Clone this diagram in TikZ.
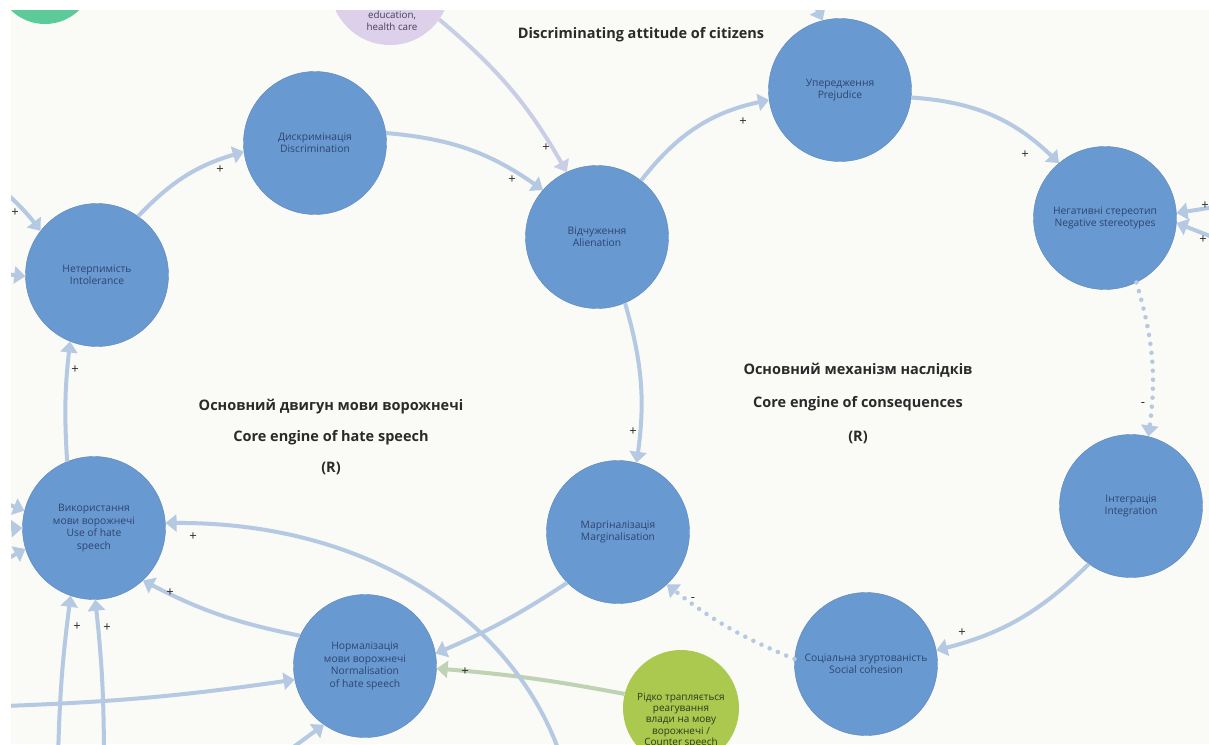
\documentclass[tikz,border=0pt]{standalone}
\usepackage{fontspec}
\setmainfont{Open Sans}
\usetikzlibrary{arrows.meta}
\definecolor{bgcol}{HTML}{FAFAF7}
\definecolor{nodeblue}{HTML}{6899D0}
\definecolor{nodetext}{HTML}{2F4570}
\definecolor{edgeblue}{HTML}{B5C9E2}
\definecolor{greenedge}{HTML}{BDD3B4}
\definecolor{titlecol}{HTML}{2A2A2A}
\definecolor{purplenode}{HTML}{DCD0EA}
\definecolor{purpletext}{HTML}{45405A}
\definecolor{tealnode}{HTML}{5CCB99}
\definecolor{limenode}{HTML}{AAC94E}
\definecolor{limetext}{HTML}{2E3A22}
\begin{document}
\begin{tikzpicture}[x=1pt,y=-1pt,
  var/.style={circle, fill=nodeblue, draw=nodeblue!88!black, line width=0.4pt,
    minimum size=143pt, inner sep=0pt, align=center, text=nodetext,
    font=\fontsize{10.3}{12.4}\selectfont},
  link/.style={draw=edgeblue, line width=4pt, -{Triangle[length=11pt,width=17pt]}},
  dotlink/.style={draw=edgeblue, line width=4.5pt, line cap=round,
    dash pattern=on 0pt off 9pt, -{Triangle[length=11pt,width=17pt]}},
  sign/.style={font=\fontsize{13}{13}\selectfont, text=titlecol, inner sep=0pt},
  title/.style={font=\bfseries\fontsize{14.5}{16}\selectfont, text=titlecol, inner sep=0pt}]
\useasboundingbox (0,0) rectangle (1209,744);
\fill[white] (0,0) rectangle (1209,744);
\fill[bgcol] (11,10) rectangle (1209,744);
\begin{scope}
\clip (11,10) rectangle (1209,744);
% partial nodes at the borders
\node[circle, fill=tealnode, minimum size=98pt, inner sep=0pt] (teal) at (45,-25) {};
\node[circle, fill=purplenode, minimum size=120pt, inner sep=0pt] (purp) at (390,-15) {};
\node[align=center, text=purpletext, font=\fontsize{9.8}{12.5}\selectfont, inner sep=0pt] (purptext) at (392,21) {education,\\health care};
\node[circle, fill=limenode, minimum size=116pt, inner sep=0pt] (lime) at (681,708) {};
\node[align=center, text=limetext, font=\fontsize{10}{11.2}\selectfont, inner sep=0pt, anchor=north] (limetext) at (681,693) {Рідко трапляється\\реагування\\влади на мову\\ворожнечі /\\Counter speech};

% main variables
\node[var] (intol) at (97,275) {Нетерпимість\\Intolerance};
\node[var] (disc)  at (315,143) {Дискримінація\\Discrimination};
\node[var] (alien) at (597,237) {Відчуження\\Alienation};
\node[var] (prej)  at (840,90) {Упередження\\Prejudice};
\node[var] (neg)   at (1105,218) {Негативні стереотип\\Negative stereotypes};
\node[var] (integ) at (1131,506) {Інтеграція\\Integration};
\node[var] (soc)   at (866,664) {Соціальна згуртованість\\Social cohesion};
\node[var] (marg)  at (618,532) {Маргіналізація\\Marginalisation};
\node[var] (use)   at (94,528) {Використання\\мови ворожнечі\\Use of hate\\speech};
\node[var] (norm)  at (365,666) {Нормалізація\\мови ворожнечі\\Normalisation\\of hate speech};

% free ends
\coordinate (inA) at (5,192);
\coordinate (inB) at (5,274);
\coordinate (inC) at (5,503);
\coordinate (inD) at (5,529);
\coordinate (inE) at (5,560);
\coordinate (inF) at (58,760);
\coordinate (inG) at (104,760);
\coordinate (inH) at (5,706);
\coordinate (inI) at (262,770);
\coordinate (inJ) at (562,760);
\coordinate (inK) at (812,0);
\coordinate (inL) at (1215,207);
\coordinate (inM) at (1215,238);

% texts
\node[title] (t0) at (641,35) {Discriminating attitude of citizens};
\node[title] (t1) at (331,407) {Основний двигун мови ворожнечі};
\node[title] (t2) at (331,438) {Core engine of hate speech};
\node[title] (t3) at (331,468) {(R)};
\node[title] (t4) at (858,370) {Основний механізм наслідків};
\node[title] (t5) at (858,404) {Core engine of consequences};
\node[title] (t6) at (858,437) {(R)};

% connectors
\draw[link] (intol.55) to[bend left=15] (disc.187);
\draw[link] (disc.8) to[bend left=15] (alien.139);
\draw[link] (alien.52) to[bend left=20] (prej.188);
\draw[link] (prej.-6) to[bend left=20] (neg.130);
\draw[dotlink] (neg.-64) to[bend left=12] (integ.76);
\draw[link] (integ.234) to[bend left=15] (soc.11);
\draw[dotlink] (soc.176) to[bend left=8] (marg.-47);
\draw[link] (alien.-67) to[bend left=12] (marg.75);
\draw[link] (marg.225) to[bend left=5] (norm.10);
\draw[link, draw=greenedge] (lime.166) to[bend right=3] (norm.-2);
\draw[link] (norm.155) to[bend left=8] (use.-47);
\draw[link] (use.112) to[bend left=5] (intol.248);
\draw[link] (inJ) .. controls (520,630) and (380,522) .. (use.4);
\draw[link, draw=purplenode!55!edgeblue] (purp.-35) to[bend left=10] (alien.115);
\draw[link] (inA) to[bend left=5] (intol.142);
\draw[link] (inB) -- (intol.181);
\draw[link] (inC) -- (use.166);
\draw[link] (inD) -- (use.180);
\draw[link] (inE) -- (use.197);
\draw[link] (inF) to[bend left=3] (use.251);
\draw[link] (inG) to[bend right=3] (use.271);
\draw[link] (inH) to[bend right=3] (norm.191);
\draw[link] (inI) -- (norm.235);
\draw[link] (inK) -- (prej.104);
\draw[link] (inL) -- (neg.4);
\draw[link] (inM) -- (neg.-4);

% polarity signs
\node[sign] (s1) at (15,213) {+};
\node[sign] (s2) at (220,170) {+};
\node[sign] (s3) at (512,180) {+};
\node[sign] (s4) at (546,148) {+};
\node[sign] (s5) at (743,122) {+};
\node[sign] (s6) at (1025,155) {+};
\node[sign] (s7) at (1205,206) {+};
\node[sign] (s8) at (1203,240) {+};
\node[sign] (s9) at (75,370) {+};
\node[sign] (s10) at (633,432) {+};
\node[sign] (s11) at (1143,405) {-};
\node[sign] (s12) at (193,537) {+};
\node[sign] (s13) at (170,593) {+};
\node[sign] (s14) at (77,627) {+};
\node[sign] (s15) at (107,628) {+};
\node[sign] (s16) at (465,672) {+};
\node[sign] (s17) at (962,633) {+};
\node[sign] (s18) at (693,600) {-};
\end{scope}
\end{tikzpicture}
\end{document}
